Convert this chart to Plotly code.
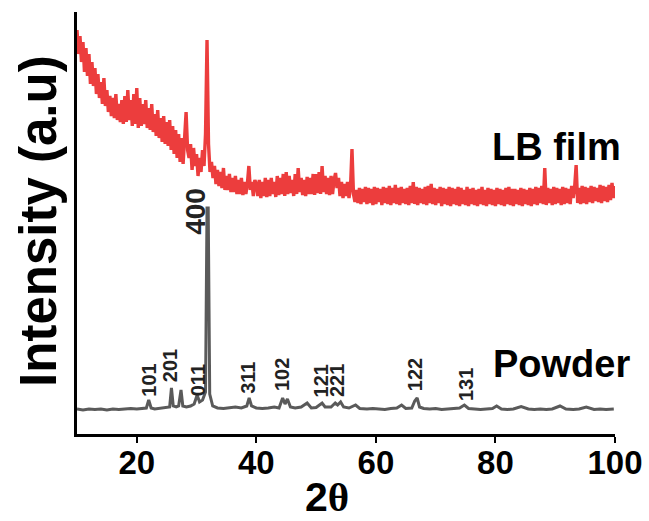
import plotly.graph_objects as go

# ---------------- data ----------------
# LB film: 2theta grid 10..100 step 0.25, intensity (a.u.)
lb_start = 10.0
lb_step = 0.25
lb_intensity = [
    404, 380, 398, 372,
    392, 362, 386, 358,
    380, 350, 372, 348,
    366, 340, 360, 336,
    352, 330, 356, 328,
    344, 322, 338, 318,
    336, 316, 340, 314,
    330, 312, 334, 310,
    338, 312, 344, 314,
    334, 308, 340, 310,
    346, 306, 336, 308,
    330, 310, 334, 306,
    326, 304, 330, 302,
    320, 298, 324, 296,
    316, 292, 318, 290,
    312, 288, 314, 284,
    308, 280, 304, 276,
    300, 272, 296, 270,
    296, 322, 284, 276,
    290, 264, 286, 268,
    280, 258, 276, 262,
    284, 268, 300, 394,
    290, 262, 272, 256,
    268, 250, 264, 248,
    262, 246, 266, 244,
    258, 244, 260, 242,
    256, 242, 258, 240,
    254, 240, 256, 239,
    252, 240, 250, 268,
    244, 252, 238, 254,
    250, 238, 254, 236,
    252, 238, 256, 237,
    254, 238, 256, 240,
    252, 237, 258, 239,
    256, 240, 260, 238,
    262, 240, 258, 241,
    254, 238, 260, 240,
    266, 242, 256, 239,
    254, 238, 257, 240,
    256, 240, 260, 239,
    260, 241, 262, 240,
    268, 242, 258, 240,
    256, 239, 258, 240,
    254, 261, 246, 256,
    238, 252, 236, 250,
    238, 252, 236, 246,
    285, 240, 232, 244,
    231, 246, 230, 245,
    232, 247, 230, 246,
    231, 245, 229, 247,
    230, 246, 232, 245,
    229, 247, 231, 246,
    230, 248, 229, 246,
    231, 249, 230, 246,
    229, 247, 231, 245,
    230, 246, 229, 248,
    231, 252, 230, 247,
    229, 246, 231, 245,
    230, 247, 229, 248,
    231, 250, 230, 246,
    229, 245, 231, 247,
    228, 246, 230, 245,
    229, 247, 228, 246,
    230, 245, 229, 247,
    228, 246, 230, 244,
    229, 247, 228, 245,
    230, 246, 229, 244,
    228, 245, 230, 247,
    229, 244, 228, 246,
    230, 245, 229, 244,
    228, 246, 230, 245,
    229, 244, 228, 246,
    230, 247, 229, 245,
    228, 245, 230, 244,
    229, 246, 228, 245,
    230, 244, 229, 246,
    228, 245, 230, 247,
    229, 246, 231, 248,
    230, 266, 229, 246,
    231, 245, 229, 247,
    230, 246, 231, 245,
    229, 247, 230, 246,
    231, 245, 230, 248,
    236, 247, 269, 231,
    246, 230, 248, 231,
    247, 230, 246, 232,
    248, 231, 247, 233,
    246, 232, 249, 231,
    248, 233, 247, 232,
    249, 234, 251, 236,
    248,
]
lb_two_theta = [lb_start + i * lb_step for i in range(len(lb_intensity))]

# Powder pattern
powder_two_theta = [
    10, 11, 12, 13, 14, 15, 16, 17, 18, 19, 20, 21, 21.6, 22.0, 22.4, 23, 24, 25,
    25.5, 25.8, 26.1, 26.6, 27.0, 27.4, 27.7, 28.3, 29, 29.6, 30.1, 30.5, 31.0,
    31.5, 31.75, 31.95, 32.2, 32.7, 33.5, 34.5, 35.5, 36.5, 37.5, 38.4, 38.8, 39.2,
    40, 41, 42, 43, 43.8, 44.4, 44.8, 45.2, 45.7, 46.5, 47.5, 48.5, 49.2, 50,
    51.0, 51.5, 52.5, 53.2, 53.6, 54.1, 54.6, 55.5, 56.6, 57.3, 58.5, 59.5, 60.5,
    61.5, 62.5, 63.5, 64.3, 65, 66, 66.5, 66.9, 67.3, 68, 69, 70, 71, 72, 73, 74,
    74.8, 75.5, 76.5, 77.5, 78.5, 79.5, 80.2, 81, 82, 83, 84.3, 85.5, 86.5, 87.5,
    88.5, 89.5, 90.8, 91.8, 93, 94, 95.2, 96.5, 97.5, 98.5, 99.8,
]
powder_intensity = [
    25, 24, 25, 24.5, 25, 24, 25, 24.5, 25, 25.5, 25, 25.5, 26, 34, 26, 25, 25.5, 26,
    27, 46, 28, 27, 28, 44, 28, 27, 28, 30, 39, 32, 34,
    42, 226, 226, 40, 28, 26, 25.5, 26, 27, 26, 28, 36, 28,
    26, 25.5, 26, 27, 26, 36, 30, 35, 27, 26, 27, 31, 26, 26.5,
    31, 27, 27, 31, 29, 32, 27, 26, 29, 25.5, 25, 25.5, 25,
    24.5, 25.5, 26, 29, 25.5, 26, 33, 36, 27, 25.5, 25, 25.5, 24.5, 25, 25.5, 26,
    29, 25.5, 25, 24.5, 25, 25.5, 28, 25, 24.5, 25, 27.5, 25, 24.5, 25,
    24.5, 25, 28, 25, 24.5, 25, 27, 24.5, 25, 24.5, 25,
]

# Miller index labels (text, 2theta, intensity position)
peak_labels = ["101", "201", "011", "311", "102", "121", "221", "122", "131"]
peak_label_x = [22.0, 25.5, 30.2, 38.5, 44.3, 50.8, 53.5, 66.5, 75.0]
peak_label_y = [54, 68.5, 53.5, 56.5, 59, 53.5, 53, 59.5, 49.5]
main_label = "400"
main_label_x = 29.8
main_label_y = 222.5

x_ticks = [20, 40, 60, 80, 100]
x_range = [10, 100]
y_range = [0, 422]

series_names = ["LB film", "Powder"]
series_label_x = [90.2, 91.1]
series_label_y = [287, 70]

# ---------------- figure ----------------
FONT = "Liberation Sans"
fig = go.Figure()
fig.add_trace(go.Scatter(x=lb_two_theta, y=lb_intensity, mode="lines",
                         line=dict(color="#EC3D3D", width=3.4), name=series_names[0],
                         showlegend=False))
fig.add_trace(go.Scatter(x=powder_two_theta, y=powder_intensity, mode="lines",
                         line=dict(color="#5A5A5A", width=3), name=series_names[1],
                         showlegend=False))

annotations = []
for t, x, y in zip(peak_labels, peak_label_x, peak_label_y):
    annotations.append(dict(x=x, y=y, xref="x", yref="y", text=t, textangle=-90,
                            showarrow=False, xanchor="center", yanchor="middle",
                            font=dict(family=FONT, size=20, color="#222222", weight="bold")))
annotations.append(dict(x=main_label_x, y=main_label_y, xref="x", yref="y", text=main_label,
                        textangle=-90, showarrow=False, xanchor="center", yanchor="middle",
                        font=dict(family=FONT, size=28, color="#222222", weight="bold")))
for t, x, y in zip(series_names, series_label_x, series_label_y):
    annotations.append(dict(x=x, y=y, xref="x", yref="y", text=t, showarrow=False,
                            xanchor="center", yanchor="middle",
                            font=dict(family=FONT, size=38, color="black", weight="bold")))
annotations.append(dict(x=-0.0706, y=0.505, xref="paper", yref="paper",
                        text="Intensity (a.u)", textangle=-90, showarrow=False,
                        xanchor="center", yanchor="middle",
                        font=dict(family=FONT, size=51, color="black", weight="bold")))
annotations.append(dict(x=0.465, y=-0.150, xref="paper", yref="paper",
                        text="2<span style='font-family:Liberation Serif'>θ</span>",
                        showarrow=False, xanchor="center", yanchor="middle",
                        font=dict(family=FONT, size=41, color="black", weight="bold")))

fig.update_layout(
    width=649, height=521,
    margin=dict(l=77, r=34, t=12, b=87),
    paper_bgcolor="white", plot_bgcolor="white",
    annotations=annotations,
    xaxis=dict(range=x_range, tickvals=x_ticks, ticks="outside", ticklen=6, tickwidth=2,
               tickcolor="black", showline=True, linecolor="black", linewidth=2.5,
               showgrid=False, zeroline=False, automargin=False, ticklabelstandoff=-8,
               tickfont=dict(family=FONT, size=33, color="black", weight="bold")),
    yaxis=dict(range=y_range, showticklabels=False, ticks="", showline=True,
               linecolor="black", linewidth=2.5, showgrid=False, zeroline=False,
               automargin=False),
)
fig.write_html("out.html", config={"displayModeBar": False},
               post_script="document.body.style.margin='0';")
